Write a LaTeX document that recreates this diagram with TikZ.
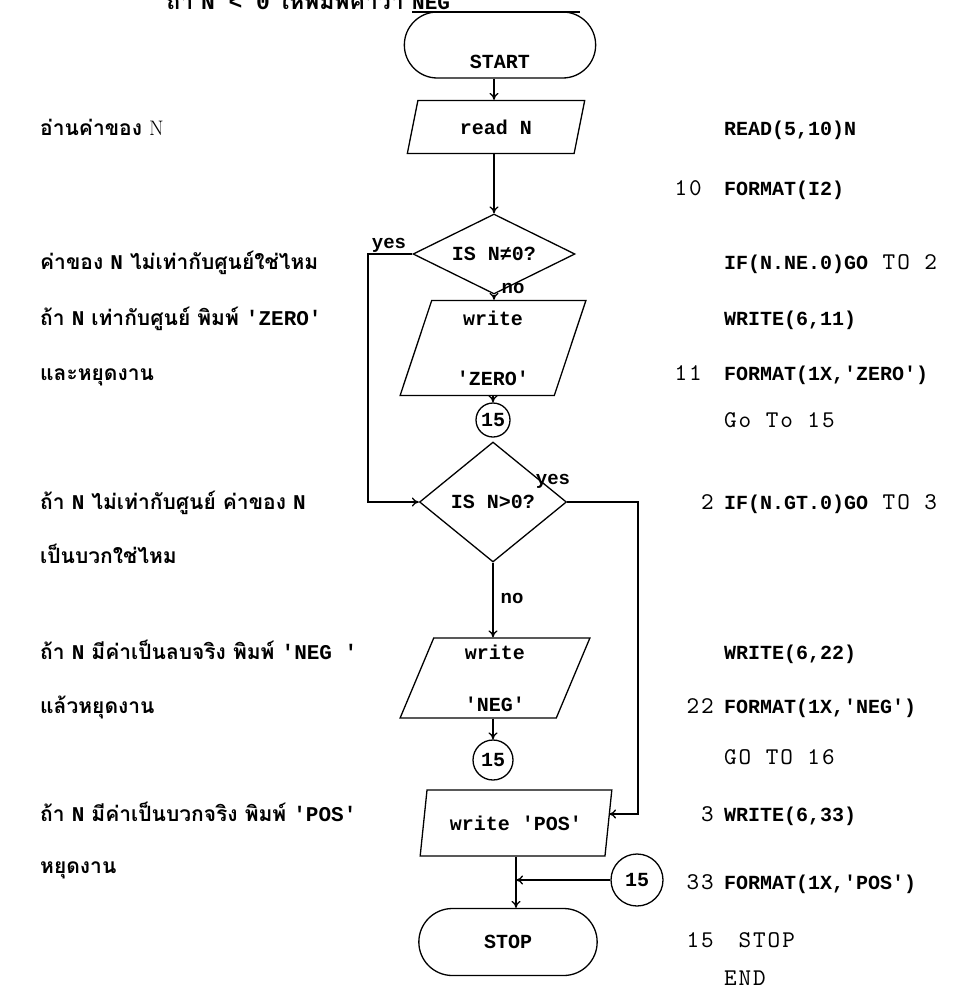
\documentclass[tikz,border=0pt]{standalone}
\usepackage{fontspec}
\newfontfamily\thaifont[Script=Thai]{Loma}
\newfontfamily\codefont{Liberation Mono}
\newfontfamily\lightfont{lmmono10-regular.otf}[LetterSpace=8]
\newcommand\lat[1]{{\codefont\bfseries #1}}
\newcommand\thin[1]{{\lightfont\fontsize{24}{26}\selectfont #1}}
\usetikzlibrary{shapes.geometric, shapes.misc, arrows.meta, positioning}
\tikzset{
  term/.style={rounded rectangle, draw, line width=1.3pt,
               minimum width=198pt, minimum height=66pt,
               font=\codefont\bfseries\fontsize{20}{22}\selectfont},
  io/.style={trapezium, trapezium left angle=76, trapezium right angle=104,
             trapezium stretches=true, draw, line width=1.3pt, align=center,
             font=\codefont\bfseries\fontsize{20}{22}\selectfont},
  decide/.style={diamond, draw, line width=1.3pt, inner sep=0pt,
                 font=\codefont\bfseries\fontsize{20}{22}\selectfont},
  conn/.style={circle, draw, line width=1.3pt, inner sep=0pt,
               font=\codefont\bfseries\fontsize{20}{22}\selectfont},
  flow/.style={-{To[length=7pt,width=9pt]}, line width=1.3pt},
  lbl/.style={inner sep=1pt, font=\codefont\bfseries\fontsize{19}{21}\selectfont},
  note/.style={anchor=base west, inner sep=0pt,
               font=\thaifont\bfseries\fontsize{21}{24}\selectfont},
  code/.style={anchor=base west, inner sep=0pt,
               font=\codefont\bfseries\fontsize{20}{22}\selectfont},
  lnum/.style={anchor=base east, inner sep=0pt,
               font=\lightfont\fontsize{24}{26}\selectfont},
}
\begin{document}
\begin{tikzpicture}[x=1pt, y=-1pt]
  \useasboundingbox (0,0) rectangle (960,994);
  \coordinate (mx) at (494,0);
  \coordinate (yl) at (368,0);
  \coordinate (yr) at (638,0);
  \coordinate (ulend) at (580,0);

  % heading, cut by the page edge
  \node[note, anchor=base east, font=\thaifont\bfseries\fontsize{23}{26}\selectfont]
    (head) at (404,9) {ถ้า \lat{N < 0} ให้พิมพ์คำว่า};
  \node[note, font=\codefont\bfseries\fontsize{21}{24}\selectfont]
    (headneg) at ([xshift=8pt]head.base east) {NEG};
  \draw[line width=1.5pt] ([yshift=-3pt]headneg.base west) -- ([yshift=-3pt]headneg.base west -| ulend);

  % flowchart
  \node[term, text height=46pt, text depth=0pt] (start) at (500,45) {START};
  \node[io, minimum width=179pt, minimum height=53pt] (read) at (496,127) {read N};
  \node[decide, aspect=2, minimum width=162pt, minimum height=80pt] (dec1) at (494,254) {IS N≠0?};
  \node[io, minimum width=186pt, minimum height=95pt] (wzero) at (493,348) {write\\[38pt]'ZERO'};
  \node[conn, minimum size=34pt] (c1) at (493,420) {15};
  \node[decide, aspect=1.2, minimum width=147pt, minimum height=120pt] (dec2) at (493,502) {IS N>0?};
  \node[io, minimum width=190pt, minimum height=80pt] (wneg) at (495,678) {write\\[30pt]'NEG'};
  \node[conn, minimum size=40pt] (c2) at (493,760) {15};
  \node[io, minimum width=192pt, minimum height=66pt] (wpos) at (516,823) {write 'POS'};
  \node[conn, minimum size=52pt] (c3) at (637,880) {15};
  \node[term, minimum width=185pt, minimum height=67pt] (stop) at (508,942) {STOP};

  \node[lbl] (yes1) at (389,245) {yes};
  \node[lbl] (no1) at (513,288) {no};
  \node[lbl] (yes2) at (553,481) {yes};
  \node[lbl] (no2) at (512,598) {no};

  \draw[flow] (start.south -| mx) -- (read.north -| mx);
  \draw[flow] (read.south -| mx) -- (dec1.north);
  \draw[flow] (dec1.south) -- (wzero.north -| dec1.south);
  \draw[flow] (wzero.south -| c1) -- (c1.north);
  \draw[flow] (dec1.west) -- (dec1.west -| yl) |- (dec2.west);
  \draw[flow] (dec2.south) -- (wneg.north -| dec2.south);
  \draw[flow] (wneg.south -| c2) -- (c2.north);
  \draw[flow] (dec2.east) -- (dec2.east -| yr) |- ([yshift=9pt]wpos.east);
  \draw[flow] (wpos.south) -- (wpos.south |- stop.north);
  \draw[flow] (c3.west) -- (c3.west -| wpos.south);

  % notes on the left
  \foreach \y/\t [count=\i] in {
      135/{อ่านค่าของ {\rmfamily\mdseries N}},
      269/{ค่าของ \lat{N} ไม่เท่ากับศูนย์ใช่ไหม},
      325/{ถ้า \lat{N} เท่ากับศูนย์ พิมพ์ \lat{'ZERO'}},
      380/{และหยุดงาน},
      509/{ถ้า \lat{N} ไม่เท่ากับศูนย์ ค่าของ \lat{N}},
      563/{เป็นบวกใช่ไหม},
      659/{ถ้า \lat{N} มีค่าเป็นลบจริง พิมพ์ \lat{'NEG '}},
      713/{แล้วหยุดงาน},
      821/{ถ้า \lat{N} มีค่าเป็นบวกจริง พิมพ์ \lat{'POS'}},
      873/{หยุดงาน}}
    \node[note] (note\i) at (40,\y) {\t};

  % FORTRAN listing
  \foreach \y/\s [count=\i] in {
      135/{READ(5,10)N},
      195/{FORMAT(I2)},
      269/{IF(N.NE.0)GO\thin{ TO 2}},
      325/{WRITE(6,11)},
      380/{FORMAT(1X,'ZERO')},
      427/{\thin{Go To 15}},
      509/{IF(N.GT.0)GO\thin{ TO 3}},
      659/{WRITE(6,22)},
      713/{FORMAT(1X,'NEG')},
      764/{\thin{GO TO 16}},
      821/{WRITE(6,33)},
      889/{FORMAT(1X,'POS')},
      947/{\thin{ STOP}},
      985/{\thin{END}}}
    \node[code] (code\i) at (724,\y) {\s};
  \foreach \x/\y/\n [count=\i] in {702/195/10, 702/380/11, 714/509/2, 714/713/22,
                                   714/821/3, 714/889/33, 714/947/15}
    \node[lnum] (num\i) at (\x,\y) {\n};
\end{tikzpicture}
\end{document}
